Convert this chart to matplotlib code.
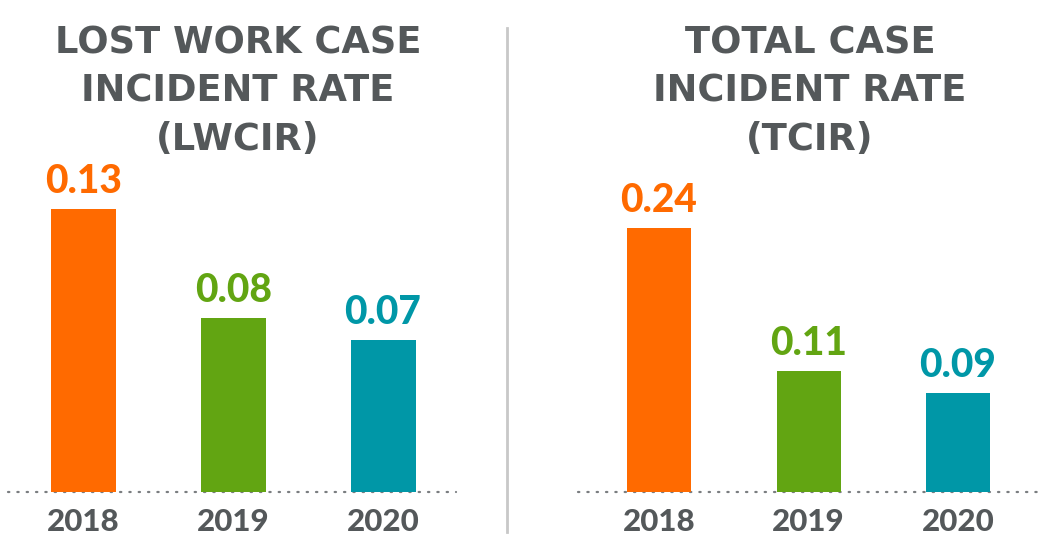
import matplotlib
matplotlib.use("Agg")
import matplotlib.pyplot as plt
from matplotlib.transforms import blended_transform_factory

years = ["2018", "2019", "2020"]
lwcir_values = [0.13, 0.08, 0.07]
tcir_values = [0.24, 0.11, 0.09]
lwcir_labels = ["0.13", "0.08", "0.07"]
tcir_labels = ["0.24", "0.11", "0.09"]
lwcir_title = ["LOST WORK CASE", "INCIDENT RATE", "(LWCIR)"]
tcir_title = ["TOTAL CASE", "INCIDENT RATE", "(TCIR)"]

colors = ["#FF6A00", "#62A512", "#0097A7"]
text_gray = "#54585A"

W, H = 1052, 537
fig = plt.figure(figsize=(W / 100, H / 100), dpi=100)
fig.patch.set_facecolor("white")

base_px = 492  # baseline y in pixels from top


def make_panel(x0, x1, centers_px, bar_w_px, px_per_unit, values, labels, title, title_cx):
    left = x0 / W
    width = (x1 - x0) / W
    bottom = (H - base_px) / H
    height = base_px / H
    ax = fig.add_axes([left, bottom, width, height])
    spacing = (centers_px[-1] - centers_px[0]) / 2
    xlo = -(centers_px[0] - x0) / spacing
    xhi = 2 + (x1 - centers_px[-1]) / spacing
    ax.set_xlim(xlo, xhi)
    ax.set_ylim(0, base_px / px_per_unit)
    xs = list(range(len(values)))
    bars = ax.bar(xs, values, width=bar_w_px / spacing, color=colors, zorder=2)
    for b, lab, c in zip(bars, labels, colors):
        ax.annotate(lab, (b.get_x() + b.get_width() / 2, b.get_height()),
                    xytext=(0, 6.5), textcoords="offset points",
                    ha="center", va="bottom", color=c,
                    fontsize=28, fontweight="black", family="Lato")
    ax.axhline(0, color="#7a7d80", lw=1.6, linestyle=(0, (0.6, 3.6)),
               dash_capstyle="round", zorder=1, clip_on=False)
    for s in ax.spines.values():
        s.set_visible(False)
    ax.set_yticks([])
    ax.set_xticks([])
    trans = blended_transform_factory(ax.transData, fig.transFigure)
    for x, yr in zip(xs, years):
        ax.text(x, 1 - 531 / H, yr, transform=trans, ha="center",
                va="baseline", fontsize=22.5, fontweight="black",
                family="Lato", color=text_gray, clip_on=False)
    ax.patch.set_alpha(0)
    for i, line in enumerate(title):
        fig.text(title_cx / W, 1 - (43 + 48 * i) / H, line, ha="center",
                 va="center", fontsize=26.5, fontweight="bold",
                 family="DejaVu Sans", color=text_gray)
    return ax


make_panel(8, 456, [83.5, 235, 383], 65, 2177, lwcir_values, lwcir_labels,
           lwcir_title, 238)
make_panel(578, 1041, [659, 809, 958], 64, 1100, tcir_values, tcir_labels,
           tcir_title, 810)

# vertical divider
fig.add_artist(plt.Line2D([507 / W, 507 / W], [1 - 28 / H, 1 - 532 / H],
                          color="#c8c8c8", lw=2, transform=fig.transFigure))

fig.savefig("out.png", dpi=100, facecolor="white")
